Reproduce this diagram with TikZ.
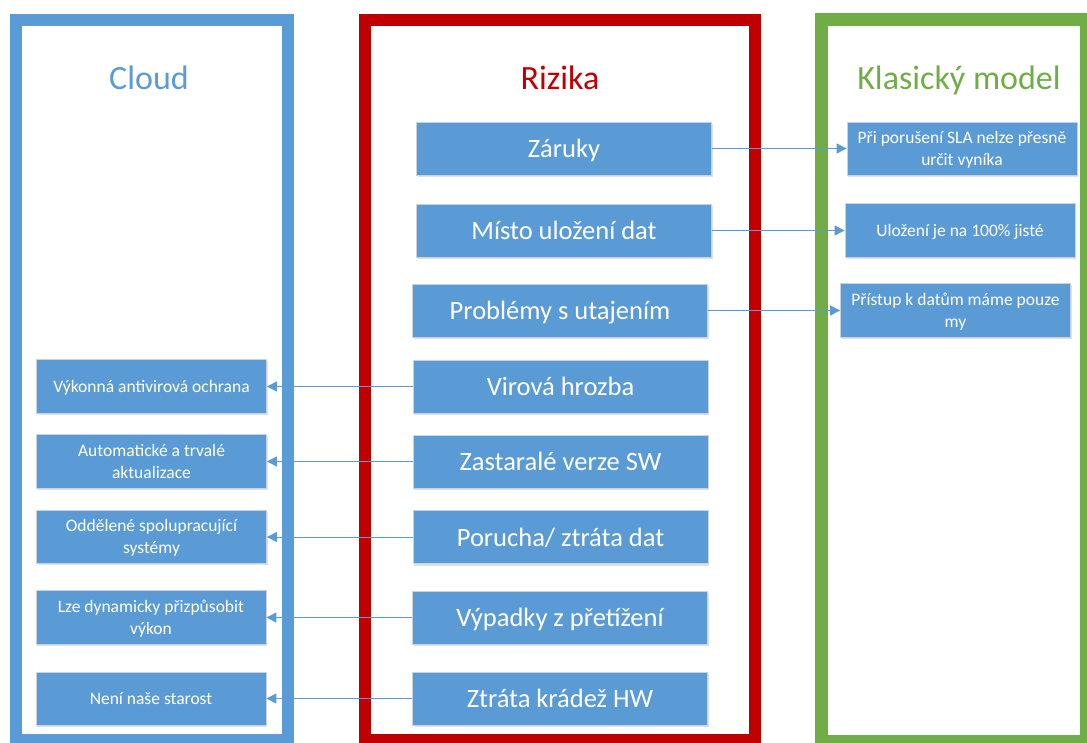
\documentclass[tikz,border=0pt]{standalone}
\usepackage{fontspec}
\setmainfont{Carlito}
\usetikzlibrary{arrows.meta,shadows}
\definecolor{cloudblue}{HTML}{5B9BD5}
\definecolor{riskred}{HTML}{C00000}
\definecolor{classicgreen}{HTML}{70AD47}
\definecolor{boxedge}{HTML}{C9D3E0}
\begin{document}
\begin{tikzpicture}[x=1pt,y=-1pt,
  frame/.style={line width=12pt},
  heading/.style={anchor=base, inner sep=0pt, font=\fontsize{34}{40}\selectfont},
  basebox/.style={fill=cloudblue, draw=boxedge, line width=0.8pt, text=white,
    inner sep=0pt, align=center, text depth=0pt,
    drop shadow={shadow xshift=1pt, shadow yshift=-2pt, opacity=0.12, fill=black}},
  riskbox/.style={basebox, minimum width=295pt, minimum height=53pt,
    font=\fontsize{26.5}{30}\selectfont},
  sidebox/.style={basebox, minimum width=230pt, minimum height=54pt,
    font=\fontsize{17.5}{22}\selectfont},
  link/.style={draw=cloudblue, line width=1pt, -{Triangle[length=10pt,width=10pt]}}
]
\useasboundingbox (0,0) rectangle (1087,743);
\clip (0,0) rectangle (1087,743);

% column frames
\draw[frame, draw=cloudblue] (16,20) rectangle (287.5,740);
\draw[frame, draw=riskred] (365,20) rectangle (754.5,740);
\draw[frame, draw=classicgreen, line width=13pt] (821,20) rectangle (1086.5,741);

% column headings
\node[heading, text=cloudblue] (hcloud) at (149,90) {Cloud};
\node[heading, text=riskred] (hrisk) at (560,90) {Rizika};
\node[heading, text=classicgreen] (hclassic) at (959,90) {Klasický model};

% risks
\node[riskbox] (r1) at (564,148.5) {Záruky};
\node[riskbox] (r2) at (564,230.5) {Místo uložení dat};
\node[riskbox] (r3) at (560,310.5) {Problémy s utajením};
\node[riskbox] (r4) at (560.5,386.5) {Virová hrozba};
\node[riskbox] (r5) at (560.5,461.5) {Zastaralé verze SW};
\node[riskbox] (r6) at (560.5,537) {Porucha/ ztráta dat};
\node[riskbox] (r7) at (560,617.5) {Výpadky z přetížení};
\node[riskbox] (r8) at (560,698.5) {Ztráta krádež HW};

% classic model answers
\node[sidebox, minimum height=53pt] (g1) at (962,148.5) {Při porušení SLA nelze přesně\\určit vyníka};
\node[sidebox] (g2) at (960,230) {Uložení je na 100\% jisté};
\node[sidebox] (g3) at (955.5,310) {Přístup k datům máme pouze\\my};

% cloud answers
\node[sidebox] (c1) at (151.5,386) {Výkonná antivirová ochrana};
\node[sidebox] (c2) at (151.5,461) {Automatické a trvalé\\aktualizace};
\node[sidebox, minimum height=53pt] (c3) at (151.5,536.5) {Oddělené spolupracující\\systémy};
\node[sidebox] (c4) at (151,617) {Lze dynamicky přizpůsobit\\výkon};
\node[sidebox, minimum height=53pt] (c5) at (151,698.5) {Není naše starost};

% connectors
\draw[link] (r1.east) -- (r1.east -| g1.west);
\draw[link] (r2.east) -- (r2.east -| g2.west);
\draw[link] (r3.east) -- (r3.east -| g3.west);
\draw[link] (r4.west) -- (r4.west -| c1.east);
\draw[link] (r5.west) -- (r5.west -| c2.east);
\draw[link] (r6.west) -- (r6.west -| c3.east);
\draw[link] (r7.west) -- (r7.west -| c4.east);
\draw[link] (r8.west) -- (r8.west -| c5.east);
\end{tikzpicture}
\end{document}
